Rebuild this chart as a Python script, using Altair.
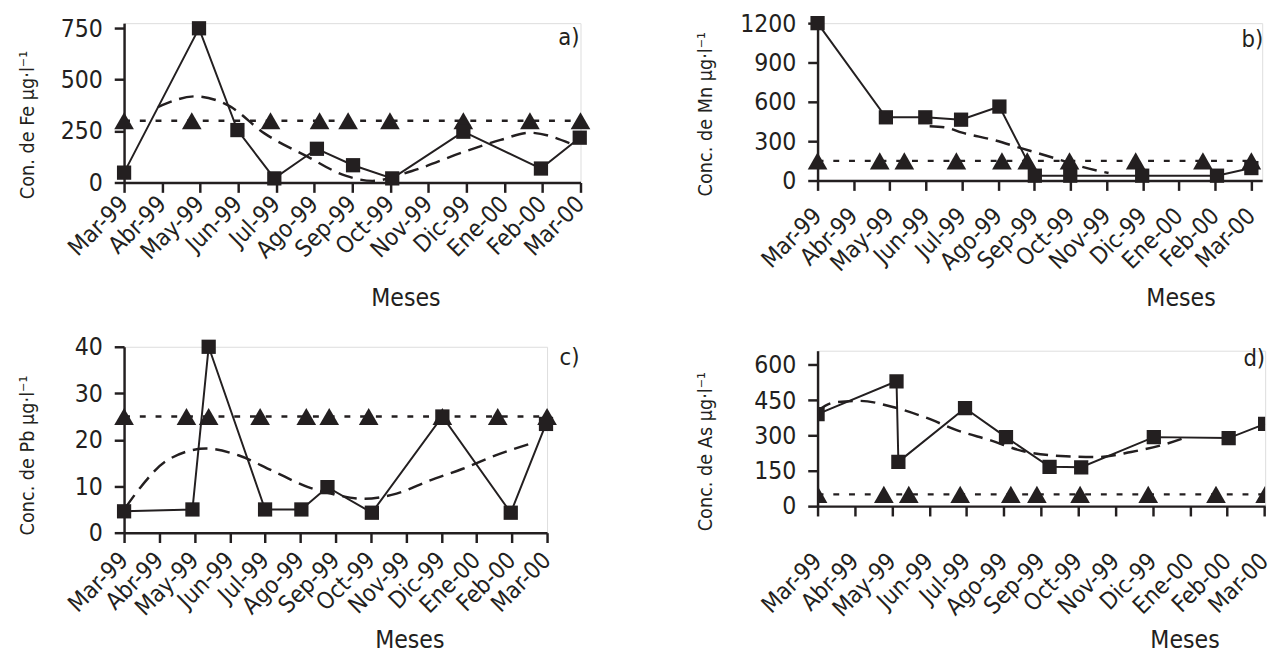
import altair as alt
import pandas as pd

months = ["Mar-99", "Abr-99", "May-99", "Jun-99", "Jul-99", "Ago-99", "Sep-99",
          "Oct-99", "Nov-99", "Dic-99", "Ene-00", "Feb-00", "Mar-00"]

# a) Fe
fe_x = [0, 1.97, 2.98, 3.95, 5.07, 6.02, 7.05, 8.92, 10.96, 11.98]
fe_y = [48, 750, 255, 20, 164, 84, 20, 247, 68, 218]
fe_lim_x = [0, 1.78, 3.85, 5.14, 5.89, 6.99, 8.92, 10.67, 12.0]
fe_lim = 300
fe_tr_x = [0.89, 1.88, 2.74, 3.69, 4.81, 5.84, 6.53, 7.57, 8.86, 9.9, 10.67, 11.71]
fe_tr_y = [367, 419, 375, 239, 127, 32, 8, 56, 144, 207, 242, 191]

# b) Mn
mn_x = [0, 1.89, 2.98, 3.97, 5.03, 6.01, 6.99, 8.98, 11.05, 12.0]
mn_y = [1200, 482, 482, 464, 564, 37, 37, 37, 37, 95]
mn_lim_x = [0, 1.72, 2.4, 3.84, 5.1, 5.8, 6.97, 8.8, 10.66, 12.0]
mn_lim = 150
mn_tr_x = [3.1, 3.5, 4.0, 4.9, 5.65, 6.56, 7.28, 8.05]
mn_tr_y = [414, 407, 365, 307, 245, 170, 107, 57]

# c) Pb
pb_x = [0, 1.94, 2.4, 4.0, 5.03, 5.77, 7.03, 9.03, 10.97, 11.97]
pb_y = [4.6, 5, 40, 5, 5, 9.8, 4.3, 25, 4.3, 23.4]
pb_lim_x = [0, 1.77, 2.4, 3.86, 5.17, 5.82, 6.94, 9.03, 10.6, 12.0]
pb_lim = 25
pb_tr_x = [0.05, 0.47, 1.21, 2.33, 3.26, 4.19, 5.22, 5.87, 6.8, 7.73, 8.66, 9.59, 10.52, 11.63]
pb_tr_y = [5.5, 9.8, 15.5, 18.1, 16.6, 13.4, 9.8, 8.4, 7.3, 8.4, 11.2, 13.7, 16.6, 19.4]

# d) As
as_x = [0, 2.12, 2.17, 3.96, 5.06, 6.23, 7.08, 9.03, 11.04, 12.02]
as_y = [391, 530, 188, 416, 293, 167, 165, 293, 289, 349]
as_lim_x = [0, 1.78, 2.45, 3.83, 5.19, 5.89, 7.05, 8.88, 10.7, 12.02]
as_lim = 50
as_tr_x = [0.0, 0.44, 1.14, 2.02, 2.89, 3.77, 4.65, 5.53, 6.67, 7.54, 8.42, 9.38, 9.91]
as_tr_y = [405, 440, 447, 421, 377, 321, 279, 233, 212, 209, 230, 265, 293]

INK = "#231f20"
FONT = "DejaVu Sans Condensed, Liberation Sans Narrow, DejaVu Sans"
LABEL_EXPR = "[" + ",".join("'%s'" % m for m in months) + "][datum.value]"


def panel(mx, my, lx, lval, tx, ty, ydom, yticks, width, height, xmax,
          ytitle, tag, tag_x, tag_y, yt_x, yt_y, me_x, me_y, lpad, clip=False):
    meas = pd.DataFrame({"x": mx, "y": my})
    lim = pd.DataFrame({"x": lx, "y": [lval] * len(lx)})
    tr = pd.DataFrame({"x": tx, "y": ty})
    xs = alt.Scale(domain=[0, xmax], nice=False, zero=False)
    ys = alt.Scale(domain=ydom, nice=False)
    xax = alt.Axis(values=list(range(13)), tickCount=40, labelExpr=LABEL_EXPR, title="Meses",
                   titleX=me_x, titleY=me_y, titleAlign="center", titleBaseline="middle",
                   titleFont=FONT, titleFontSize=25, titleFontWeight="normal", titleColor=INK,
                   labelAngle=315, labelAlign="right", labelBaseline="middle",
                   labelPadding=lpad, labelFont=FONT, labelFontSize=24, labelColor=INK,
                   tickSize=10, tickWidth=2.5, tickColor=INK, domainColor=INK, domainWidth=2.5,
                   grid=False, labelOverlap=False, labelFlush=False, labelBound=False)
    yax = alt.Axis(values=yticks, tickCount=40, format="d", title=ytitle, titleX=yt_x, titleY=yt_y,
                   titleAngle=270, titleAlign="center", titleBaseline="middle",
                   titleFont=FONT, titleFontSize=20, titleFontWeight="normal", titleColor=INK,
                   labelPadding=12, labelFont=FONT, labelFontSize=25, labelColor=INK,
                   tickSize=10, tickWidth=2.5, tickColor=INK, domainColor=INK, domainWidth=2.5,
                   grid=False, labelOverlap=False, labelFlush=False)
    x_enc = alt.X("x:Q", scale=xs, axis=xax)
    y_enc = alt.Y("y:Q", scale=ys, axis=yax)
    x2 = alt.X("x:Q", scale=xs)
    y2 = alt.Y("y:Q", scale=ys)

    lim_line = alt.Chart(lim).mark_line(color=INK, strokeWidth=2.5, strokeDash=[6, 10], clip=clip).encode(x=x_enc, y=y_enc)
    lim_pts = alt.Chart(lim).mark_point(shape="triangle-up", filled=True, size=400, color=INK, opacity=1, clip=clip).encode(x=x2, y=y2)
    trend = alt.Chart(tr).mark_line(color=INK, strokeWidth=2.5, strokeDash=[15, 8], interpolate="monotone", clip=clip).encode(x=x2, y=y2)
    m_line = alt.Chart(meas).mark_line(color=INK, strokeWidth=2, clip=clip).encode(x=x2, y=y2)
    m_pts = alt.Chart(meas).mark_point(shape="square", filled=True, size=210, color=INK, opacity=1, clip=clip).encode(x=x2, y=y2)
    label = alt.Chart(pd.DataFrame({"t": [tag]})).mark_text(
        font=FONT, fontSize=24, color=INK, align="right", baseline="middle").encode(
        x=alt.value(tag_x), y=alt.value(tag_y), text="t:N")
    layers = [lim_line, trend, lim_pts, m_line, m_pts, label]
    return alt.layer(*layers).properties(width=width, height=height)


pa = panel(fe_x, fe_y, fe_lim_x, fe_lim, fe_tr_x, fe_tr_y, [0, 775], [0, 250, 500, 750],
           464, 162, 12, "Con. de Fe µg·l⁻¹", "a)", 463, 15, -98, 103, 286, 117, 8)
pb = panel(mn_x, mn_y, mn_lim_x, mn_lim, mn_tr_x, mn_tr_y, [0, 1200], [0, 300, 600, 900, 1200],
           452, 160, 12.3, "Conc. de Mn µg·l⁻¹", "b)", 453, 17, -114, 92, 369, 119, 22)
pc = panel(pb_x, pb_y, pb_lim_x, pb_lim, pb_tr_x, pb_tr_y, [0, 40], [0, 10, 20, 30, 40],
           430, 189, 12, "Conc. de Pb µg·l⁻¹", "c)", 463, 12, -98, 110, 290, 109, 14)
pd_ = panel(as_x, as_y, as_lim_x, as_lim, as_tr_x, as_tr_y, [0, 660], [0, 150, 300, 450, 600],
            455, 158, 12.02, "Conc. de As µg·l⁻¹", "d)", 455, 9, -114, 102, 373, 136, 42, clip=True)

col1 = alt.vconcat(pa, pc, spacing=23)
col2 = alt.vconcat(pb, pd_, spacing=36)
chart = alt.hconcat(col1, col2, spacing=105).properties(
    padding={"left": 9, "top": -3, "right": 0, "bottom": 0}
).configure_view(stroke=None).configure(font=FONT)

chart.save("out.html", embed_options={"renderer": "svg", "actions": False})
